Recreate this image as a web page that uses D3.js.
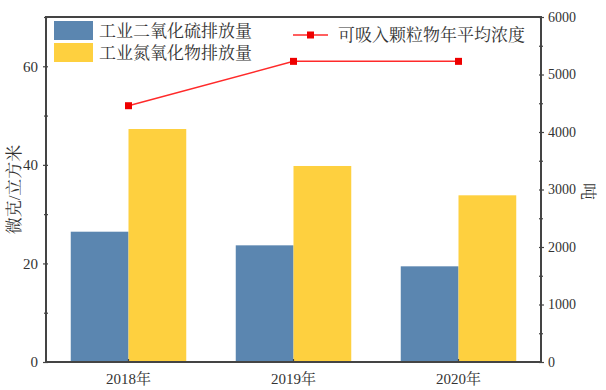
<!DOCTYPE html>
<html>
<head>
<meta charset="utf-8">
<script src="https://cdn.jsdelivr.net/npm/d3@7"></script>
<style>
  body { margin: 0; background: #fff; }
  text { font-family: "Liberation Serif", "Noto Serif CJK SC", "Noto Sans CJK SC", serif; fill: #333; }
</style>
</head>
<body>
<div class="chart"></div>
<script>
// data
var years = ["2018年", "2019年", "2020年"];
var so2 = [2266, 2029, 1664];        // 工业二氧化硫排放量 (吨)
var nox = [4052, 3409, 2899];        // 工业氮氧化物排放量 (吨)
var pm10 = [52.0, 61.0, 61.0];       // 可吸入颗粒物年平均浓度 (微克/立方米)
var leftTicks = [0, 20, 40, 60];
var rightTicks = [0, 1000, 2000, 3000, 4000, 5000, 6000];

var svgWidth = 606;
var svgHeight = 390;

var margin = { top: 17, right: 65, bottom: 28, left: 46 };
var width = svgWidth - margin.left - margin.right;
var height = svgHeight - margin.top - margin.bottom;

var svg = d3.select(".chart")
  .append("svg")
  .attr("width", svgWidth)
  .attr("height", svgHeight);

var chartGroup = svg.append("g")
  .attr("transform", `translate(${margin.left}, ${margin.top})`);

// scales
var x0 = d3.scaleBand()
  .domain(years)
  .range([0, width])
  .paddingInner(0.3)
  .paddingOuter(0.15);

var series = ["so2", "nox"];
var x1 = d3.scaleBand()
  .domain(series)
  .range([0, x0.bandwidth()]);

var yLeft = d3.scaleLinear().domain([0, 70]).range([height, 0]);
var yRight = d3.scaleLinear().domain([0, 6000]).range([height, 0]);

var colors = { so2: "#5b86b0", nox: "#fed03f" };

// bars
var rows = years.map((y, i) => ({ year: y, so2: so2[i], nox: nox[i] }));

var groups = chartGroup.selectAll(".grp")
  .data(rows)
  .enter()
  .append("g")
  .attr("transform", d => `translate(${x0(d.year)}, 0)`);

groups.selectAll("rect")
  .data(d => series.map(k => ({ key: k, value: d[k] })))
  .enter()
  .append("rect")
  .attr("x", d => x1(d.key))
  .attr("y", d => yRight(d.value))
  .attr("width", x1.bandwidth())
  .attr("height", d => height - yRight(d.value))
  .attr("fill", d => colors[d.key]);

// line
var line = d3.line()
  .x((d, i) => x0(years[i]) + x0.bandwidth() / 2)
  .y(d => yLeft(d));

chartGroup.append("path")
  .datum(pm10)
  .attr("d", line)
  .attr("fill", "none")
  .attr("stroke", "#ff2a2a")
  .attr("stroke-width", 1.5);

chartGroup.selectAll(".pt")
  .data(pm10)
  .enter()
  .append("rect")
  .attr("x", (d, i) => x0(years[i]) + x0.bandwidth() / 2 - 3.5)
  .attr("y", d => yLeft(d) - 3.5)
  .attr("width", 7)
  .attr("height", 7)
  .attr("fill", "#ee0000");

// axes
var axisColor = "#444";

var leftAxis = d3.axisLeft(yLeft).tickValues(leftTicks).tickSize(3).tickPadding(5);
var leftMinor = d3.axisLeft(yLeft).tickValues([10, 30, 50, 70]).tickSize(2).tickFormat("");
var rightAxis = d3.axisRight(yRight).tickValues(rightTicks).tickSize(3).tickPadding(4)
  .tickFormat(d3.format("d"));
var rightMinor = d3.axisRight(yRight).tickValues([500, 1500, 2500, 3500, 4500, 5500]).tickSize(2).tickFormat("");
var bottomAxis = d3.axisBottom(x0).tickSize(3).tickPadding(8);

function styleAxis(g) {
  g.select(".domain").remove();
  g.selectAll("line").attr("stroke", axisColor).attr("stroke-width", 1.2);
  g.selectAll("text").style("font-size", "15px").attr("fill", "#333");
}

var gl = chartGroup.append("g").call(leftAxis).call(styleAxis);
gl.selectAll(".tick line").attr("x1", 2);
chartGroup.append("g").call(leftMinor).call(styleAxis)
  .selectAll(".tick line").attr("x1", 2);

var gr = chartGroup.append("g").attr("transform", `translate(${width}, 0)`).call(rightAxis).call(styleAxis);
gr.selectAll(".tick line").attr("x1", -2);
gr.selectAll("text").style("font-size", "14px");
chartGroup.append("g").attr("transform", `translate(${width}, 0)`).call(rightMinor).call(styleAxis)
  .selectAll(".tick line").attr("x1", -2);

var gb = chartGroup.append("g").attr("transform", `translate(0, ${height})`).call(bottomAxis).call(styleAxis);
gb.selectAll(".tick line").attr("y1", -3).attr("y2", 0);

// frame
chartGroup.append("rect")
  .attr("width", width)
  .attr("height", height)
  .attr("fill", "none")
  .attr("stroke", axisColor)
  .attr("stroke-width", 2);

// axis titles
chartGroup.append("text")
  .attr("transform", `translate(${-32}, ${height / 2}) rotate(-90)`)
  .attr("text-anchor", "middle")
  .attr("dy", "0.35em")
  .style("font-size", "17px")
  .text("微克/立方米");

chartGroup.append("text")
  .attr("transform", `translate(${width + 47}, ${height / 2 + 2}) rotate(90)`)
  .attr("text-anchor", "middle")
  .attr("dy", "0.35em")
  .style("font-size", "17px")
  .text("吨");

// legend
var legend = chartGroup.append("g").attr("transform", "translate(8, 4)");
var legendNames = ["工业二氧化硫排放量", "工业氮氧化物排放量"];

series.forEach(function(k, i) {
  legend.append("rect")
    .attr("x", 0)
    .attr("y", i * 22)
    .attr("width", 39)
    .attr("height", 19)
    .attr("fill", colors[k]);
  legend.append("text")
    .attr("x", 45)
    .attr("y", i * 22 + 10)
    .attr("dy", "0.35em")
    .style("font-size", "17px")
    .text(legendNames[i]);
});

var lg = chartGroup.append("g").attr("transform", "translate(247, 18)");
lg.append("line")
  .attr("x1", 0).attr("x2", 35)
  .attr("stroke", "#ff2a2a")
  .attr("stroke-width", 1.5);
lg.append("rect")
  .attr("x", 14).attr("y", -3.5)
  .attr("width", 7).attr("height", 7)
  .attr("fill", "#ee0000");
lg.append("text")
  .attr("x", 45)
  .attr("dy", "0.35em")
  .style("font-size", "17px")
  .text("可吸入颗粒物年平均浓度");
</script>
</body>
</html>
